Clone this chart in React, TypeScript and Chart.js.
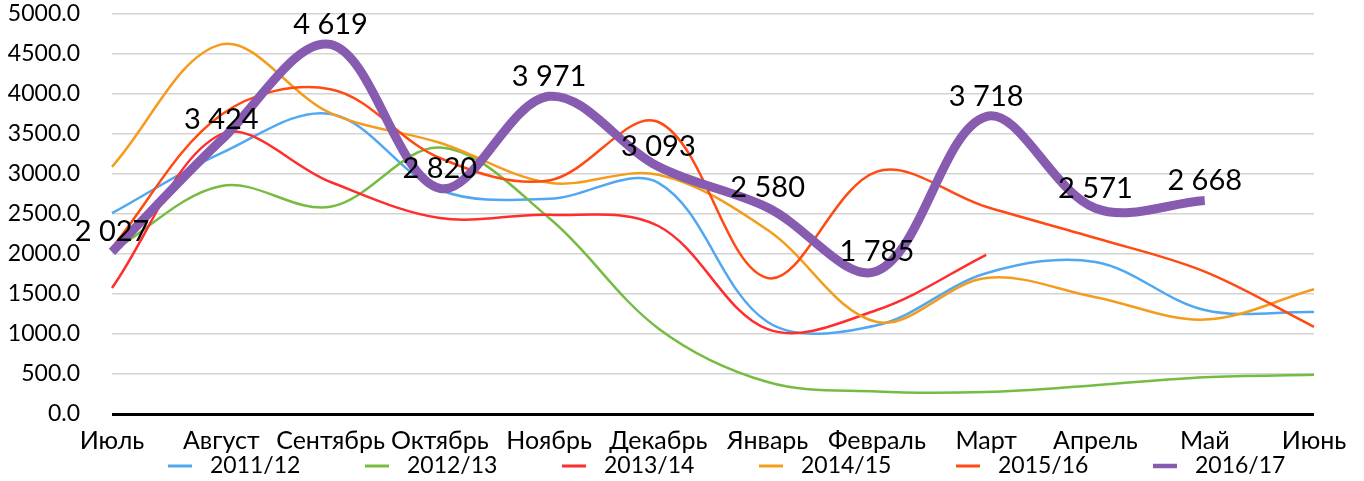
import React, { useEffect, useRef } from 'react';
import { Chart, registerables } from 'chart.js';
Chart.register(...registerables);

const months = ['Июль', 'Август', 'Сентябрь', 'Октябрь', 'Ноябрь', 'Декабрь', 'Январь', 'Февраль', 'Март', 'Апрель', 'Май', 'Июнь'];
const seriesNames = ['2011/12', '2012/13', '2013/14', '2014/15', '2015/16', '2016/17'];
const s2011 = [2510, 3260, 3750, 2800, 2690, 2890, 1150, 1110, 1760, 1900, 1300, 1275];
const s2012 = [2030, 2850, 2590, 3330, 2450, 1070, 400, 280, 275, 360, 460, 490];
const s2013 = [1575, 3500, 2900, 2450, 2490, 2350, 1060, 1300, 1990, null, null, null];
const s2014 = [3090, 4620, 3760, 3390, 2890, 2990, 2300, 1150, 1700, 1460, 1180, 1560];
const s2015 = [2080, 3740, 4060, 3200, 2920, 3650, 1700, 3030, 2590, 2200, 1780, 1090];
const s2016 = [2027, 3424, 4619, 2820, 3971, 3093, 2580, 1785, 3718, 2571, 2668, null];
const seriesValues = [s2011, s2012, s2013, s2014, s2015, s2016];
const colors = ['#52A8F0', '#76BC43', '#FF2D2D', '#F39C1E', '#FF4A12', '#875CB0'];
const widths = [2.5, 2.5, 2.5, 2.5, 2.5, 9];

const FONT = 'Lato, "Open Sans", sans-serif';

const fmt = (v: number) => {
  const s = Math.round(v).toString();
  return s.length > 3 ? s.slice(0, s.length - 3) + ' ' + s.slice(s.length - 3) : s;
};

const labelPlugin = {
  id: 'valueLabels',
  afterDatasetsDraw(chart: any) {
    const { ctx } = chart;
    const idx = 5;
    const meta = chart.getDatasetMeta(idx);
    const data = chart.data.datasets[idx].data;
    ctx.save();
    ctx.font = `29px ${FONT}`;
    ctx.fillStyle = '#000';
    ctx.textAlign = 'center';
    ctx.textBaseline = 'middle';
    meta.data.forEach((pt: any, i: number) => {
      const v = data[i];
      if (v == null) return;
      ctx.fillText(fmt(v), pt.x, pt.y - 20);
    });
    ctx.restore();
  },
};

const legendPlugin = {
  id: 'customLegend',
  afterDraw(chart: any) {
    const { ctx, chartArea } = chart;
    ctx.save();
    ctx.font = `23px ${FONT}`;
    ctx.textBaseline = 'middle';
    ctx.textAlign = 'left';
    const y = chart.height - 15;
    chart.data.datasets.forEach((ds: any, i: number) => {
      const x0 = chartArea.left + 56 + i * 197;
      ctx.strokeStyle = ds.borderColor;
      ctx.lineWidth = i === 5 ? 4.5 : 3;
      ctx.beginPath();
      ctx.moveTo(x0, y);
      ctx.lineTo(x0 + 24, y);
      ctx.stroke();
      ctx.fillStyle = '#000';
      ctx.fillText(ds.label, x0 + 42, y);
    });
    ctx.restore();
  },
};

export default function App() {
  const ref = useRef<HTMLCanvasElement>(null);
  useEffect(() => {
    if (!ref.current) return;
    const chart = new Chart(ref.current, {
      type: 'line',
      data: {
        labels: months,
        datasets: seriesNames.map((name, i) => ({
          label: name,
          data: seriesValues[i],
          borderColor: colors[i],
          backgroundColor: colors[i],
          borderWidth: widths[i],
          pointRadius: 0,
          tension: 0.35,
          fill: false,
          spanGaps: false,
          order: 5 - i,
          borderCapStyle: 'butt',
        })),
      },
      options: {
        animation: false,
        responsive: false,
        maintainAspectRatio: false,
        layout: { padding: { left: 0, right: 50, top: 14, bottom: 0 } },
        plugins: {
          legend: { display: false },
          tooltip: { enabled: false },
        },
        scales: {
          x: {
            offset: false,
            grid: { display: false, drawTicks: false },
            border: { display: false },
            ticks: {
              color: '#000',
              font: { family: FONT, size: 25 },
              padding: 12,
              maxRotation: 0,
              autoSkip: false,
            },
            afterFit: (scale: any) => { scale.height = 67; },
          },
          y: {
            min: 0,
            max: 5000,
            grid: {
              drawTicks: true,
              tickLength: 32,
              tickColor: 'rgba(0,0,0,0)',
              color: (c: any) => (c.tick && c.tick.value === 0 ? '#000' : '#d4d4d4'),
              lineWidth: (c: any) => (c.tick && c.tick.value === 0 ? 3 : 1.5),
            },
            border: { display: false },
            ticks: {
              stepSize: 500,
              color: '#000',
              font: { family: FONT, size: 23 },
              padding: 0,
              callback: (v: any) => Number(v).toFixed(1),
            },
            afterFit: (scale: any) => { scale.width = 112; },
          },
        },
      },
      plugins: [labelPlugin, legendPlugin],
    });
    return () => chart.destroy();
  }, []);
  return (
    <div style={{ position: 'fixed', left: 0, top: 0, width: 1364, height: 481, background: '#fff' }}>
      <canvas ref={ref} width={1364} height={481} style={{ display: 'block', width: 1364, height: 481 }} />
    </div>
  );
}
